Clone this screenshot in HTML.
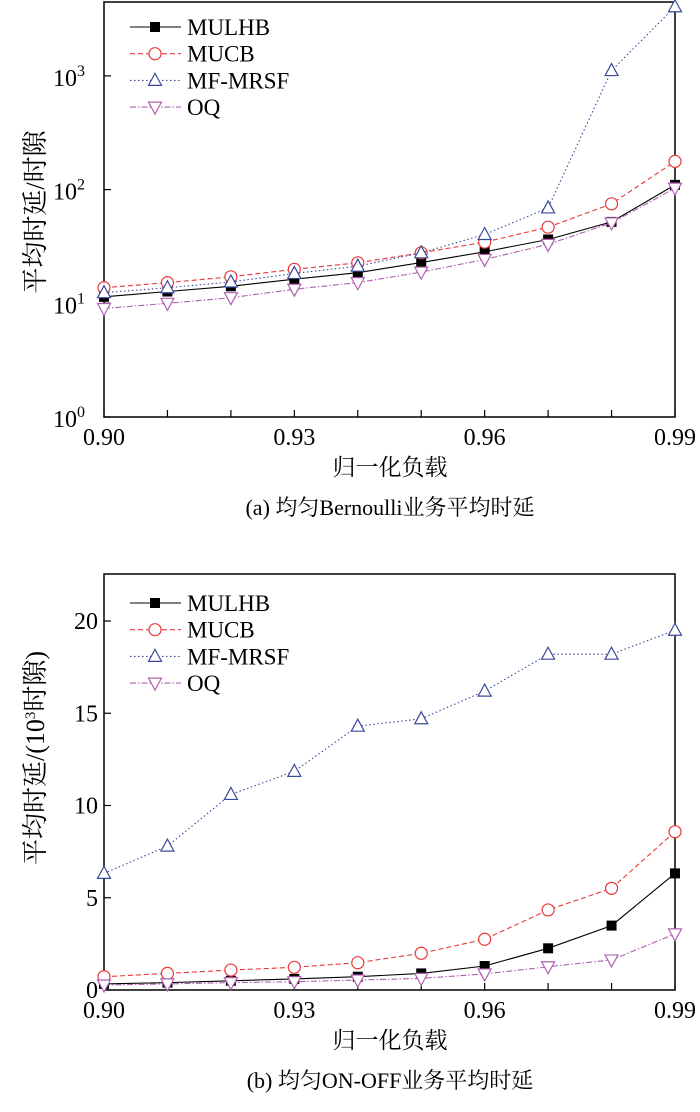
<!DOCTYPE html>
<html><head><meta charset="utf-8"><style>
body{margin:0;background:#fff;width:700px;height:1107px;overflow:hidden}
svg{font-family:"Liberation Serif","Noto Serif CJK SC",serif}
</style></head><body>
<svg id="s" width="700" height="1107" viewBox="0 0 700 1107" xmlns="http://www.w3.org/2000/svg"></svg>
<script>
const categories=[0.90,0.91,0.92,0.93,0.94,0.95,0.96,0.97,0.98,0.99];
const xTickLabels=["0.90","0.93","0.96","0.99"];
const seriesNames=["MULHB","MUCB","MF-MRSF","OQ"];
// chart (a) log scale
const aMULHB=[11.4,12.7,14.1,16.3,18.6,22.8,28.4,36.4,52,110];
const aMUCB=[13.7,15.2,17.1,19.9,22.7,27.8,34.5,46.7,75,177];
const aMFMRSF=[12.4,13.7,15.4,18.3,21.2,27.8,40.3,69,1114,4055];
const aOQ=[9.0,10.0,11.2,13.3,15.2,18.8,24.3,33,51,103];
const aYTicks=[0,1,2,3];
// chart (b) linear
const bMULHB=[0.33,0.4,0.5,0.6,0.72,0.9,1.3,2.26,3.49,6.32];
const bMUCB=[0.72,0.9,1.08,1.23,1.48,1.99,2.75,4.34,5.51,8.58];
const bMFMRSF=[6.32,7.8,10.6,11.85,14.3,14.7,16.2,18.2,18.2,19.5];
const bOQ=[0.27,0.33,0.4,0.45,0.54,0.63,0.87,1.26,1.63,3.04];
const bYTicks=[0,5,10,15,20];

const S=document.getElementById('s');
const NS="http://www.w3.org/2000/svg";
function mk(tag,at,parent){const e=document.createElementNS(NS,tag);for(const k in at)e.setAttribute(k,at[k]);(parent||S).appendChild(e);return e;}
const styles=[{c:"#000",d:"",m:"sq"},{c:"#e8383a",d:"5,3",m:"ci"},{c:"#3a4a9a",d:"1.5,2.5",m:"tu"},{c:"#b060b0",d:"6,2,1.5,2",m:"td"}];
function marker(g,type,x,y,c){
  let e;
  if(type==="sq")e=mk('rect',{x:x-5,y:y-5,width:10,height:10,fill:"#000"},g);
  else if(type==="ci")e=mk('circle',{cx:x,cy:y,r:6,fill:"#fff",stroke:c,"stroke-width":1.2},g);
  else if(type==="tu")e=mk('polygon',{points:`${x},${y-7} ${x-6.5},${y+5} ${x+6.5},${y+5}`,fill:"#fff",stroke:c,"stroke-width":1.2},g);
  else e=mk('polygon',{points:`${x},${y+7} ${x-6.5},${y-5} ${x+6.5},${y-5}`,fill:"#fff",stroke:c,"stroke-width":1.2},g);
  
  
  return e;
}
function chart(cfg){
  const L=104,R=675,T=cfg.top,B=cfg.bottom;
  const xs=v=>L+(v-0.90)/0.09*(R-L);
  const g=mk('g',{});
  
  
  const fr=mk('rect',{x:L,y:T,width:R-L,height:B-T,fill:"none",stroke:"#000","stroke-width":1.5},g);
  
  
  categories.forEach(v=>{const t=mk('line',{x1:xs(v),x2:xs(v),y1:B,y2:B-7,stroke:"#000","stroke-width":1.2},g);
    
    });
  xTickLabels.forEach(s=>{const t=mk('text',{x:xs(parseFloat(s)),y:B+28,"font-size":24,"text-anchor":"middle"},g);t.textContent=s;
    
    });
  cfg.yTicks.forEach(v=>{const y=cfg.ys(v);
    const t=mk('line',{x1:L,x2:L+7,y1:y,y2:y,stroke:"#000","stroke-width":1.2},g);
    
    
    const tx=mk('text',{x:L-6,y:y+8,"font-size":24,"text-anchor":"end"},g);
    
    
    if(cfg.log){tx.innerHTML='10<tspan dy="-10" font-size="16">'+v+'</tspan>';tx.setAttribute('x',L-19);tx.setAttribute('y',y+10);}
    else tx.textContent=v;
  });
  cfg.series.forEach((arr,i)=>{const st=styles[i];
    const pts=arr.map((v,j)=>[xs(categories[j]),cfg.ys(v)]);
    const p=mk('polyline',{points:pts.map(p=>p.join(',')).join(' '),fill:"none",stroke:st.c,"stroke-width":1.1,"stroke-dasharray":st.d},g);
    
    
    pts.forEach(q=>marker(g,st.m,q[0],q[1],st.c));
  });
  seriesNames.forEach((n,i)=>{const st=styles[i];const y=cfg.legY+i*26.7;
    const lg=mk('g',{},g);
    
    
    mk('line',{x1:130,x2:181,y1:y,y2:y,stroke:st.c,"stroke-width":1.1,"stroke-dasharray":st.d},lg);
    marker(lg,st.m,155,y,st.c);
    const t=mk('text',{x:187,y:y+8,"font-size":23},lg);t.textContent=n;});
  const yt=mk('text',{x:0,y:0,"font-size":26,"text-anchor":"middle",transform:`translate(44,${cfg.yTitleY}) rotate(-90)`},g);
  yt.innerHTML=cfg.yTitle;
  
  
  const xt=mk('text',{x:390,y:B+58,"font-size":23,"text-anchor":"middle"},g);xt.textContent="归一化负载";
  
  
  const cp=mk('text',{x:390,y:B+98,"font-size":22,"text-anchor":"middle"},g);cp.textContent=cfg.caption;
  
  
}
chart({name:"chart-a",top:2,bottom:417,log:true,ys:v=>417-(Number.isInteger(v)&&v>=0&&v<4?v:Math.log10(v))*113.7,
  yTicks:aYTicks,series:[aMULHB,aMUCB,aMFMRSF,aOQ],legY:27,yTitleY:212,yTitle:"平均时延/时隙",caption:"(a) 均匀Bernoulli业务平均时延"});
chart({name:"chart-b",top:574,bottom:990,log:false,ys:v=>990-v*18.45,
  yTicks:bYTicks,series:[bMULHB,bMUCB,bMFMRSF,bOQ],legY:603,yTitleY:758,yTitle:'平均时延/(10<tspan dy="-9" font-size="15">3</tspan><tspan dy="9">时隙)</tspan>',caption:"(b) 均匀ON-OFF业务平均时延"});
</script>
</body></html>
